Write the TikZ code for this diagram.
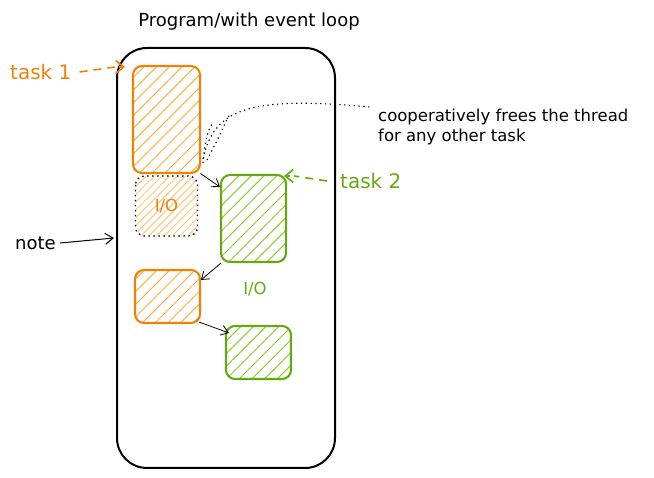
\documentclass[tikz,border=0pt]{standalone}
\usepackage{fontspec}
\setmainfont{DejaVu Sans}
\usetikzlibrary{patterns.meta,arrows.meta,calc}
\definecolor{ostroke}{HTML}{EE8208}
\definecolor{ohatch}{HTML}{FFAE3C}
\definecolor{gstroke}{HTML}{66A80F}
\definecolor{ghatch}{HTML}{8CCB2E}
\tikzset{
  hand/.style={font=\fontsize{16.5}{20}\selectfont},
  obox/.style={draw=ostroke, line width=2.1pt, rounded corners=9pt, inner sep=0pt,
    pattern={Lines[angle=45,distance=9pt,line width=1pt]}, pattern color=ohatch},
  gbox/.style={draw=gstroke, line width=2.1pt, rounded corners=9pt, inner sep=0pt,
    pattern={Lines[angle=45,distance=9pt,line width=1pt]}, pattern color=ghatch},
  iobox/.style={rounded corners=9pt, inner sep=0pt,
    pattern={Lines[angle=45,distance=5.5pt,line width=1pt]}, pattern color=ohatch!70},
  iobord/.style={draw=black, line width=1.3pt, dash pattern=on 1.5pt off 3.5pt, rounded corners=9pt},
  arr/.style={-{Straight Barb[length=7pt,width=10pt]}, line width=0.8pt},
  dline/.style={line width=1.6pt, dash pattern=on 8pt off 6pt},
  dtip/.style={-{Straight Barb[length=8pt,width=13pt]}, line width=1.6pt},
  dots/.style={line width=1.1pt, dash pattern=on 1.3pt off 3.5pt}
}
\begin{document}
\begin{tikzpicture}[x=1pt,y=-1pt]
\useasboundingbox (0,0) rectangle (654,478);
% title
\node[font=\fontsize{18}{22}\selectfont] (title) at (249,22) {Program/with event loop};
% outer frame
\node[draw=black, line width=2pt, rounded corners=30pt, minimum width=218pt, minimum height=420pt, inner sep=0pt] (frame) at (226,258) {};
% boxes
\node[obox, minimum width=67pt, minimum height=107pt] (b1) at (166.5,119.5) {};
\node[iobox, minimum width=61pt, minimum height=59pt, text=ostroke, hand] (io1) at (166.5,206) {I/O};
\draw[iobord] (io1.north west) rectangle (io1.south east);
\node[gbox, minimum width=65pt, minimum height=87pt] (b2) at (253.5,218.5) {};
\node[obox, minimum width=65pt, minimum height=53pt] (b3) at (167.5,296.5) {};
\node[gbox, minimum width=65pt, minimum height=53pt] (b4) at (258.5,352.5) {};
\node[hand, text=gstroke] (io2) at (255,289) {I/O};
% arrows between boxes
\draw[arr] (b1.south east) -- ([yshift=-13pt]b2.north west);
\draw[arr] ([xshift=1pt]b2.south west) -- ([yshift=-11pt]b3.north east);
\draw[arr] ([xshift=-2pt,yshift=2pt]b3.south east) -- ([xshift=4pt,yshift=-8pt]b4.north west);
% task labels
\node[font=\fontsize{20}{24}\selectfont, text=ostroke, anchor=west, inner sep=0pt] (t1) at (10,72) {task 1};
\coordinate (t1end) at (125,67);
\draw[dline, draw=ostroke] ([xshift=8pt]t1.east) -- ([xshift=-10pt]t1end);
\draw[dtip, draw=ostroke] ([xshift=-6pt]t1end) -- (t1end);
\node[font=\fontsize{20}{24}\selectfont, text=gstroke, anchor=west, inner sep=0pt] (t2) at (340,181) {task 2};
\coordinate (t2end) at (284,176);
\draw[dline, draw=gstroke] ([xshift=-13pt]t2.west) -- ([xshift=10pt]t2end);
\draw[dtip, draw=gstroke] ([xshift=6pt]t2end) -- (t2end);
% note
\node[font=\fontsize{18}{22}\selectfont, anchor=west, inner sep=0pt] (nt) at (15,243) {note};
\coordinate (ntend) at (114,238);
\draw[-{Straight Barb[length=8pt,width=11pt]}, line width=1pt] ([xshift=4pt]nt.east) -- (ntend);
% explanation
\node[hand, anchor=north west, align=left, inner sep=0pt] (expl) at (378,109) {cooperatively frees the thread\\for any other task};
\coordinate (dstart) at (203,159);
\coordinate (dend) at (370,107);
\draw[dots] (dstart) .. controls (214,108) and (250,96) .. (dend);
\draw[dots] ([xshift=4pt,yshift=-1pt]dstart) .. controls (222,132) and (226,120) .. (230,114);
\draw[dots] ([xshift=0pt,yshift=-4pt]dstart) .. controls (205,140) and (208,130) .. (212,124);
\end{tikzpicture}
\end{document}
